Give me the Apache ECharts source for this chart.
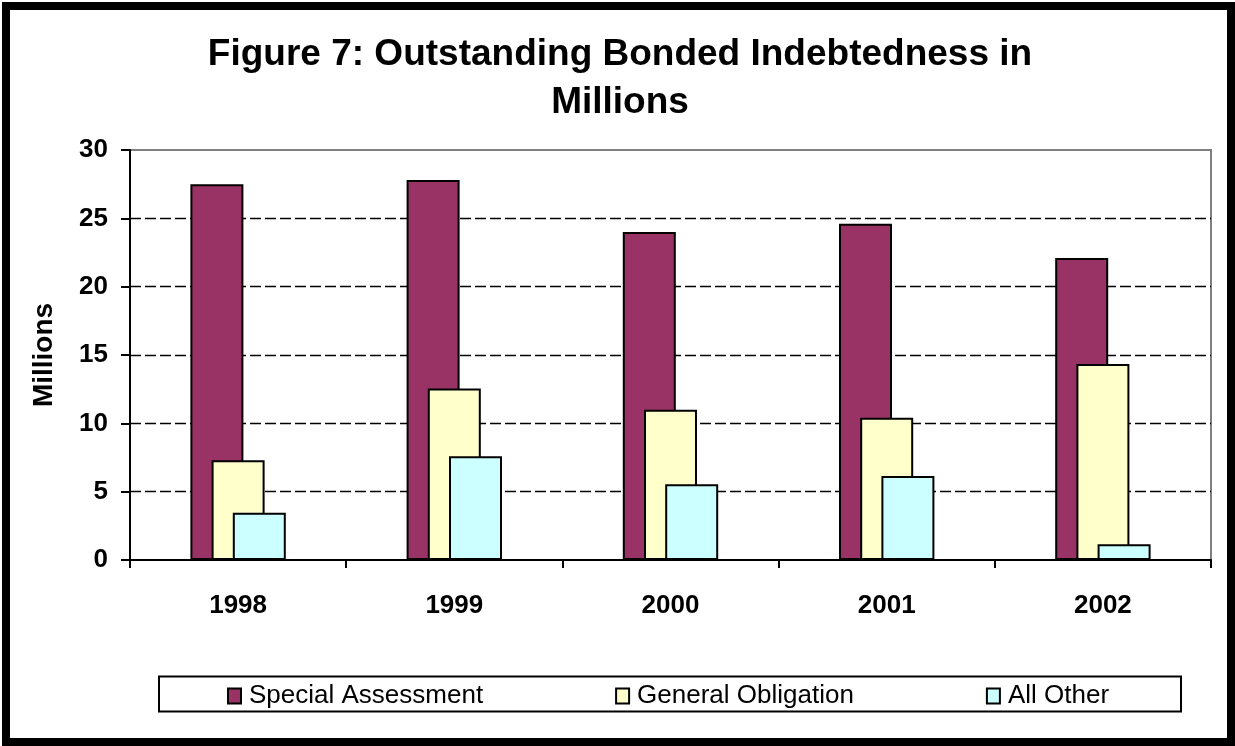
<!DOCTYPE html>
<html>
<head>
<meta charset="utf-8">
<script src="https://cdn.jsdelivr.net/npm/echarts@6/dist/echarts.min.js"></script>
<style>
html,body{margin:0;padding:0;background:#fff;}
#c{width:1235px;height:746px;}
</style>
</head>
<body>
<div id="c"></div>
<script>
const categories = ['1998', '1999', '2000', '2001', '2002'];
const specialAssessment = [27.5, 27.8, 24.0, 24.6, 22.1];
const generalObligation = [7.3, 12.55, 11.0, 10.4, 14.35];
const allOther = [3.45, 7.6, 5.55, 6.15, 1.15];
const seriesNames = ['Special Assessment', 'General Obligation', 'All Other'];
const yTicks = { min: 0, max: 30, interval: 5 };

const FONT = "'Liberation Sans', Arial, sans-serif";
const chart = echarts.init(document.getElementById('c'), null, { renderer: 'canvas' });

const barCommon = {
  type: 'bar',
  barWidth: 53,
  barGap: '-60%',
  animation: false
};

chart.setOption({
  animation: false,
  backgroundColor: '#fff',
  title: {
    text: 'Figure 7: Outstanding Bonded Indebtedness in\nMillions',
    left: 620,
    top: 31,
    textAlign: 'center',
    padding: 0,
    textStyle: {
      fontFamily: FONT,
      fontWeight: 'bold',
      fontSize: 37,
      lineHeight: 48,
      color: '#000'
    }
  },
  graphic: [
    {
      type: 'rect',
      shape: { x: 6, y: 6, width: 1225, height: 736 },
      style: { fill: 'none', stroke: '#000', lineWidth: 8 },
      silent: true
    },
    {
      type: 'rect',
      shape: { x: 159, y: 676.5, width: 1022, height: 35 },
      style: { fill: 'none', stroke: '#000', lineWidth: 2 },
      silent: true
    }
  ],
  legend: {
    data: seriesNames,
    left: 227,
    top: 683,
    padding: 0,
    itemGap: 132,
    itemWidth: 13,
    itemHeight: 15,
    icon: 'rect',
    itemStyle: { borderColor: '#000', borderWidth: 2 },
    textStyle: {
      fontFamily: FONT,
      fontSize: 26,
      color: '#000',
      padding: [2, 0, 0, 3]
    },
    selectedMode: false
  },
  grid: {
    left: 130,
    right: 24,
    top: 150,
    bottom: 186,
    show: true,
    borderColor: '#808080',
    borderWidth: 2,
    backgroundColor: 'transparent',
    containLabel: false
  },
  xAxis: {
    type: 'category',
    data: categories,
    boundaryGap: true,
    axisLine: { show: true, lineStyle: { color: '#000', width: 2 } },
    axisTick: { show: true, length: 8, alignWithLabel: false, lineStyle: { color: '#000', width: 2 } },
    axisLabel: {
      fontFamily: FONT,
      fontWeight: 'bold',
      fontSize: 26,
      color: '#000',
      margin: 33
    },
    splitLine: { show: false }
  },
  yAxis: {
    type: 'value',
    min: yTicks.min,
    max: yTicks.max,
    interval: yTicks.interval,
    name: 'Millions',
    nameLocation: 'middle',
    nameRotate: 90,
    nameGap: 72,
    nameTextStyle: {
      fontFamily: FONT,
      fontWeight: 'bold',
      fontSize: 28,
      color: '#000'
    },
    axisLine: { show: true, lineStyle: { color: '#000', width: 2 } },
    axisTick: { show: true, length: 9, inside: false, lineStyle: { color: '#000', width: 2 } },
    axisLabel: {
      fontFamily: FONT,
      fontWeight: 'bold',
      fontSize: 26,
      color: '#000',
      margin: 22
    },
    splitLine: {
      show: true,
      showMinLine: false,
      showMaxLine: false,
      lineStyle: { color: '#000', width: 1.3, type: [11, 4] }
    }
  },
  series: [
    Object.assign({}, barCommon, {
      name: seriesNames[0],
      data: specialAssessment,
      itemStyle: { color: '#993366', borderColor: '#000', borderWidth: 2 }
    }),
    Object.assign({}, barCommon, {
      name: seriesNames[1],
      data: generalObligation,
      itemStyle: { color: '#FFFFCC', borderColor: '#000', borderWidth: 2 }
    }),
    Object.assign({}, barCommon, {
      name: seriesNames[2],
      data: allOther,
      itemStyle: { color: '#CCFFFF', borderColor: '#000', borderWidth: 2 }
    })
  ]
});
</script>
</body>
</html>
